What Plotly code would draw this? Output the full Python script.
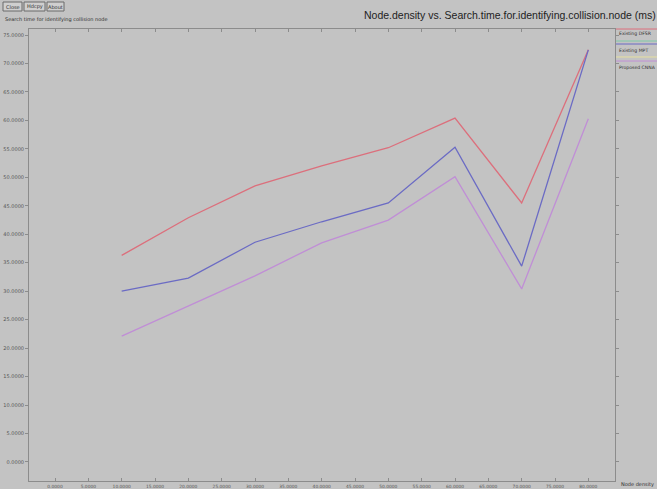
import plotly.graph_objects as go

# Node density (x) and search time in ms (y) for each scheme
node_density = [10, 20, 30, 40, 50, 60, 70, 80]
existing_dfsr = [36.3, 42.9, 48.5, 52.0, 55.2, 60.4, 45.5, 72.4]
existing_mpt = [30.0, 32.3, 38.6, 42.2, 45.5, 55.3, 34.4, 72.4]
proposed_cnna = [22.1, 27.4, 32.7, 38.5, 42.5, 50.1, 30.4, 60.3]

series_names = ["Existing DFSR", "Existing MPT", "Proposed CNNA"]
series_colors = ["#dc6f7c", "#6b6bc4", "#c08ed6"]
x_ticks = list(range(0, 85, 5))
y_ticks = list(range(0, 80, 5))

W, H = 657, 489
L, R, T, B = 29, 615, 29, 481   # plot area in pixels

def px(x):
    return (x - L) / (R - L)

def py(y):
    return (B - y) / (B - T)

BG = "#c3c3c3"
AX = "#8c8c8c"
TXT = "#2e2e2e"

fig = go.Figure()
for name, vals, col in zip(series_names, [existing_dfsr, existing_mpt, proposed_cnna], series_colors):
    fig.add_trace(go.Scatter(x=node_density, y=vals, mode="lines", name=name,
                             line=dict(color=col, width=1.3), showlegend=False))

axis_common = dict(showgrid=False, zeroline=False, showline=True, linecolor=AX, linewidth=1,
                   mirror="ticks", ticklen=3, tickcolor=AX, automargin=False,
                   tickformat=".4f")

fig.update_xaxes(range=[-3.9, 84.0], tickvals=x_ticks, ticks="inside", ticklabelstandoff=1,
                 tickfont=dict(size=4.4, color="#555555", family="DejaVu Sans"), **axis_common)
fig.update_yaxes(range=[-3.34, 76.06], tickvals=y_ticks, ticks="outside",
                 tickfont=dict(size=5, color="#555555", family="DejaVu Sans"), **axis_common)

shapes = []
annotations = []

# Legend block on the right: coloured rule lines with labels
legend_lines = [(29, "#dc6f7c"), (41, "#7fc9a8"), (44, "#6b6bc4"), (57, "#e6e0a0"), (61, "#c08ed6")]
for yy, col in legend_lines:
    shapes.append(dict(type="line", xref="paper", yref="paper",
                       x0=px(616), x1=px(657), y0=py(yy), y1=py(yy),
                       line=dict(color=col, width=1)))
for yy, name in zip([34, 50, 67], series_names):
    annotations.append(dict(xref="paper", yref="paper", x=px(617), y=py(yy), text=name,
                            showarrow=False, xanchor="left", yanchor="middle",
                            font=dict(size=4.6, color=TXT, family="DejaVu Sans")))

# Title and axis captions
annotations.append(dict(xref="paper", yref="paper", x=px(362), y=py(15),
                        text="Node.density vs. Search.time.for.identifying.collision.node (ms)",
                        showarrow=False, xanchor="left", yanchor="middle",
                        font=dict(size=10.5, color="#222222", family="Liberation Sans")))
annotations.append(dict(xref="paper", yref="paper", x=px(3), y=py(19),
                        text="Search time for identifying collision node",
                        showarrow=False, xanchor="left", yanchor="middle",
                        font=dict(size=5, color=TXT, family="DejaVu Sans")))
annotations.append(dict(xref="paper", yref="paper", x=px(619), y=py(484),
                        text="Node density", showarrow=False, xanchor="left", yanchor="middle",
                        font=dict(size=5, color=TXT, family="DejaVu Sans")))

# Window buttons
for x0, x1, label in [(3, 22, "Close"), (24, 45, "Hdcpy"), (47, 64, "About")]:
    shapes.append(dict(type="rect", xref="paper", yref="paper",
                       x0=px(x0), x1=px(x1), y0=py(11), y1=py(2),
                       line=dict(color="#6a6a6a", width=1), fillcolor="#cfcfcf"))
    annotations.append(dict(xref="paper", yref="paper", x=px((x0 + x1) / 2), y=py(6.5),
                            text=label, showarrow=False, xanchor="center", yanchor="middle",
                            font=dict(size=5, color=TXT, family="DejaVu Sans")))

fig.update_layout(width=W, height=H, paper_bgcolor=BG, plot_bgcolor=BG,
                  margin=dict(l=L, r=W - R, t=T, b=H - B),
                  shapes=shapes, annotations=annotations, showlegend=False)

fig.write_html("out.html")
